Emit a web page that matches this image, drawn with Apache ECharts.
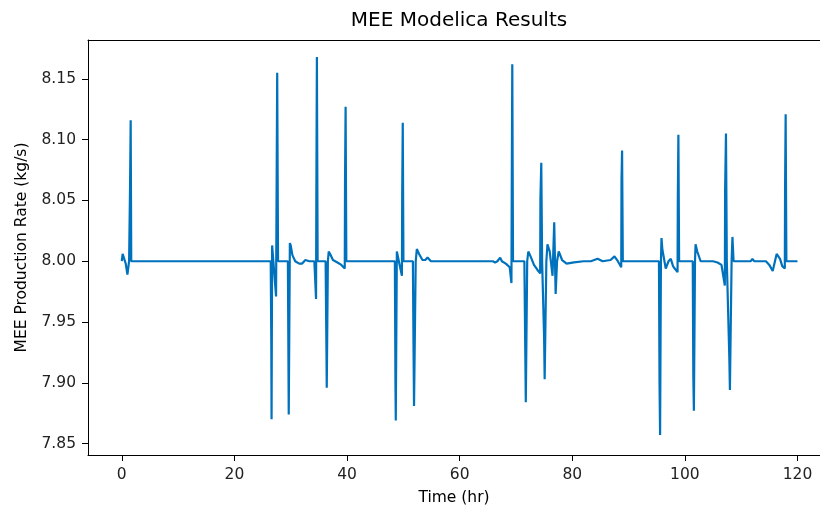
<!DOCTYPE html>
<html>
<head>
<meta charset="utf-8">
<script src="https://cdn.jsdelivr.net/npm/echarts@6/dist/echarts.min.js"></script>
<style>html,body{margin:0;padding:0;background:#fff}#c{width:820px;height:505px}</style>
</head>
<body>
<div id="c"></div>
<script>
// Time (hr)
var timeHr = [
  0, 0.15, 0.4, 0.7, 1.0, 1.15, 1.3, 1.45, 1.47, 1.55, 1.58, 1.68,
  26.45, 26.55, 26.6, 26.7, 27.0, 27.4, 27.6, 27.75,
  29.5, 29.65, 29.85, 30.0, 30.3, 30.8, 31.5, 32.0, 32.6, 33.3,
  34.2, 34.5, 34.55, 34.65, 34.78,
  36.2, 36.35, 36.4, 36.6, 36.75, 37.0, 37.5, 38.3, 39.0, 39.6, 39.65, 39.75, 39.88,
  48.5, 48.6, 48.66, 48.85, 49.0, 49.3, 49.75, 49.8, 49.9, 50.02,
  51.7, 51.8, 51.9, 52.2, 52.4, 52.8, 53.4, 53.9, 54.3, 54.9,
  65.9, 66.3, 66.7, 67.2, 67.5, 68.2, 68.9, 69.2, 69.25, 69.35, 69.48,
  71.5, 71.65, 71.75, 72.0, 72.2, 72.6, 73.2, 73.8, 74.3, 74.35, 74.5, 74.65,
  75.0, 75.1, 75.4, 75.6, 76.0, 76.5, 76.8, 77.05, 77.3, 77.6, 78.2, 79.0,
  80.3, 82.0, 83.3, 84.5, 85.4, 86.8, 87.5, 88.1, 88.7, 88.75, 88.85, 88.98,
  95.4, 95.5, 95.6, 95.75, 95.85, 96.0, 96.6, 97.1, 97.5, 97.9, 98.2, 98.7, 98.75, 98.85, 98.98,
  101.4, 101.5, 101.6, 101.8, 101.9, 102.2, 102.8,
  105.0, 105.8, 106.5, 107.1, 107.15, 107.3, 107.45, 107.9, 108.0, 108.3, 108.45, 108.65,
  111.7, 112.0, 112.3, 114.4, 115.0, 115.6, 116.0, 116.3, 116.9, 117.3, 117.75, 117.8, 117.9, 118.03, 120
];
// MEE production rate (kg/s)
var rateKgS = [
  8.000, 8.006, 8.007, 7.998, 7.989, 7.990, 8.000, 8.000, 8.062, 8.063, 8.116, 8.000,
  8.000, 7.935, 7.870, 8.013, 8.012, 7.971, 8.155, 8.000,
  8.000, 7.874, 8.015, 8.013, 8.005, 8.000, 7.998, 7.998, 8.001, 8.000,
  8.000, 7.969, 8.051, 8.168, 8.000,
  8.000, 7.925, 7.896, 8.000, 8.008, 8.006, 8.001, 7.999, 7.997, 7.994, 8.068, 8.127, 8.000,
  8.000, 7.900, 7.869, 8.008, 8.008, 7.998, 7.988, 8.055, 8.114, 8.000,
  8.000, 7.936, 7.881, 8.000, 8.010, 8.006, 8.001, 8.001, 8.003, 8.000,
  8.000, 7.999, 8.000, 8.003, 8.000, 7.998, 7.995, 7.982, 8.050, 8.162, 8.000,
  8.000, 7.929, 7.884, 8.000, 8.008, 8.004, 7.997, 7.993, 7.990, 8.052, 8.081, 8.000,
  7.938, 7.903, 8.000, 8.014, 8.008, 7.988, 8.032, 7.973, 8.000, 8.008, 8.001, 7.998,
  7.999, 8.000, 8.000, 8.002, 8.000, 8.001, 8.004, 8.000, 7.995, 8.067, 8.091, 8.000,
  8.000, 7.900, 7.857, 8.000, 8.019, 8.010, 7.994, 8.000, 8.002, 7.996, 7.994, 7.991, 8.052, 8.104, 8.000,
  8.000, 7.906, 7.877, 8.000, 8.014, 8.008, 8.000,
  8.000, 7.999, 7.997, 7.980, 8.059, 8.105, 8.000, 7.920, 7.894, 8.000, 8.020, 8.000,
  8.000, 8.002, 8.000, 8.000, 7.997, 7.992, 8.000, 8.006, 8.002, 7.996, 7.994, 8.063, 8.121, 8.000, 8.000
];
var xTicks = [0, 20, 40, 60, 80, 100, 120];
var yTicks = [7.85, 7.90, 7.95, 8.00, 8.05, 8.10, 8.15];

var FONT = 'DejaVu Sans';
var pts = timeHr.map(function (t, i) { return [t, rateKgS[i]]; });

var chart = echarts.init(document.getElementById('c'), null, {renderer: 'canvas'});
chart.setOption({
  animation: false,
  backgroundColor: '#ffffff',
  grid: {left: 88, top: 40, right: 0, bottom: 50, containLabel: false, outerBoundsMode: 'none'},
  graphic: [{
    type: 'text', x: 459, y: 21,
    style: {text: 'MEE Modelica Results', font: '20px "DejaVu Sans"', fill: '#000', textAlign: 'center', textVerticalAlign: 'middle'}
  }],
  xAxis: [{
    type: 'value', min: -6, max: 124,
    position: 'bottom',
    name: 'Time (hr)', nameLocation: 'middle', nameGap: 35,
    nameTextStyle: {fontFamily: FONT, fontSize: 15.5, color: '#000'},
    axisLine: {show: true, onZero: false, lineStyle: {color: '#000', width: 1}},
    axisTick: {show: true, length: 6, lineStyle: {color: '#000', width: 1}, customValues: xTicks},
    axisLabel: {fontFamily: FONT, fontSize: 15.5, color: '#222', margin: 12, customValues: xTicks, formatter: function (v) { return String(v); }},
    splitLine: {show: false}
  }, {
    type: 'value', min: -6, max: 124, position: 'top',
    axisLine: {show: true, onZero: false, lineStyle: {color: '#000', width: 1}},
    axisTick: {show: false}, axisLabel: {show: false}, splitLine: {show: false}
  }],
  yAxis: {
    type: 'value', min: 7.8406, max: 8.182,
    name: 'MEE Production Rate (kg/s)', nameLocation: 'middle', nameGap: 58, nameRotate: 90,
    nameTextStyle: {fontFamily: FONT, fontSize: 15.5, color: '#000'},
    axisLine: {show: true, onZero: false, lineStyle: {color: '#000', width: 1}},
    axisTick: {show: true, length: 6, lineStyle: {color: '#000', width: 1}, customValues: yTicks},
    axisLabel: {fontFamily: FONT, fontSize: 15.5, color: '#222', margin: 12, customValues: yTicks, formatter: function (v) { return v.toFixed(2); }},
    splitLine: {show: false}
  },
  series: [{
    type: 'line', data: pts, xAxisIndex: 0,
    showSymbol: false, symbol: 'none',
    lineStyle: {color: '#0072bd', width: 2.2},
    clip: true
  }]
});
</script>
</body>
</html>
